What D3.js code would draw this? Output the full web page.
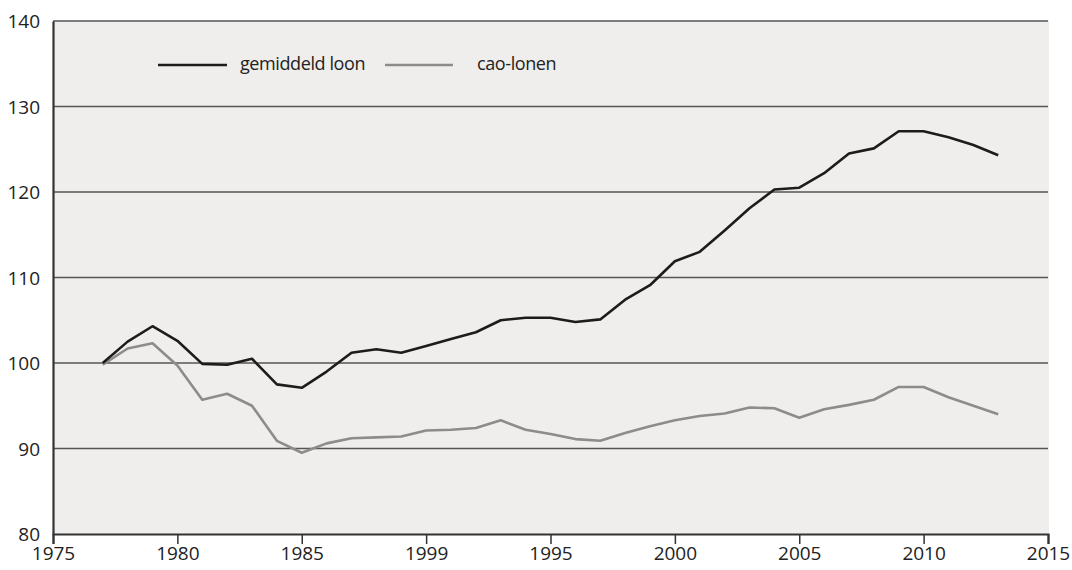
<!DOCTYPE html>
<html>
<head>
<meta charset="utf-8">
<script src="https://cdn.jsdelivr.net/npm/d3@7"></script>
<style>
  body { margin: 0; background: #fff; }
  text { font-family: "Open Sans", sans-serif; fill: #222; }
</style>
</head>
<body>
<div class="vis"></div>
<script>
const years = d3.range(1977, 2014);

// gemiddeld loon (index 1977 = 100)
const gemiddeldLoon = [100.0, 102.5, 104.3, 102.6, 99.9, 99.8, 100.5, 97.5, 97.1, 99.0,
    101.2, 101.6, 101.2, 102.0, 102.8, 103.6, 105.0, 105.3, 105.3, 104.8,
    105.1, 107.4, 109.1, 111.9, 113.0, 115.5, 118.1, 120.3, 120.5, 122.2,
    124.5, 125.1, 127.1, 127.1, 126.4, 125.5, 124.3];

// cao-lonen
const caoLonen = [99.8, 101.7, 102.3, 99.7, 95.7, 96.4, 95.0, 90.9, 89.5, 90.6,
    91.2, 91.3, 91.4, 92.1, 92.2, 92.4, 93.3, 92.2, 91.7, 91.1,
    90.9, 91.8, 92.6, 93.3, 93.8, 94.1, 94.8, 94.7, 93.6, 94.6,
    95.1, 95.7, 97.2, 97.2, 96.0, 95.0, 94.0];

const xTicks = [1975, 1980, 1985, 1990, 1995, 2000, 2005, 2010, 2015];
const xTickLabels = ["1975", "1980", "1985", "1999", "1995", "2000", "2005", "2010", "2015"];
const yTicks = [80, 90, 100, 110, 120, 130, 140];

const width = 1072,
    height = 570,
    margin = {top: 21, right: 24, bottom: 36, left: 53};

let svg = d3.select(".vis")
    .append("svg")
    .attr("width", width)
    .attr("height", height)

let x = d3.scaleLinear().domain([1975, 2015]).range([margin.left, width - margin.right]),
    y = d3.scaleLinear().domain([80, 140]).range([height - margin.bottom, margin.top]);

// panel
svg.append("rect")
    .attr("x", x(1975))
    .attr("y", y(140))
    .attr("width", x(2015) - x(1975) + 1)
    .attr("height", y(80) - y(140))
    .style("fill", "#efeeec")

// gridlines
svg.append("g")
    .selectAll("line")
    .data(yTicks.filter(d => d > 80))
    .join("line")
    .attr("x1", x(1975))
    .attr("x2", x(2015))
    .attr("y1", d => y(d))
    .attr("y2", d => y(d))
    .style("stroke", "#555")
    .style("stroke-width", 1.6)

// y axis
let yAxis = svg.append("g")
    .attr("transform", "translate(" + x(1975) + ",0)")
    .call(d3.axisLeft(y).tickValues(yTicks).tickSize(0).tickPadding(13))
yAxis.select(".domain").style("stroke", "#333").style("stroke-width", 2.2)
yAxis.selectAll("text")
    .style("font-size", "19px")
    .style("font-family", "Open Sans, sans-serif")
    .style("fill", "#222")
    .attr("dy", "0.35em")

// x axis
let xAxis = svg.append("g")
    .attr("transform", "translate(0," + y(80) + ")")
    .call(d3.axisBottom(x).tickValues(xTicks).tickSize(10).tickPadding(3)
        .tickFormat((d, i) => xTickLabels[i]))
xAxis.select(".domain").style("stroke", "#333").style("stroke-width", 2.2)
xAxis.selectAll(".tick line").style("stroke", "#333").style("stroke-width", 1.5)
xAxis.selectAll("text")
    .style("font-size", "19px")
    .style("font-family", "Open Sans, sans-serif")
    .style("fill", "#222")

// lines
const line = d3.line().x(d => x(d[0])).y(d => y(d[1]));

svg.append("path")
    .datum(years.map((d, i) => [d, caoLonen[i]]))
    .attr("d", line)
    .style("fill", "none")
    .style("stroke", "#8c8c8c")
    .style("stroke-width", 2.6)
    .style("stroke-linejoin", "round")

svg.append("path")
    .datum(years.map((d, i) => [d, gemiddeldLoon[i]]))
    .attr("d", line)
    .style("fill", "none")
    .style("stroke", "#1c1c1c")
    .style("stroke-width", 2.6)
    .style("stroke-linejoin", "round")

// legend
const legend = [
    {label: "gemiddeld loon", color: "#1c1c1c", x1: 158, x2: 227, tx: 240},
    {label: "cao-lonen", color: "#8c8c8c", x1: 385, x2: 453, tx: 477}
];
let legendG = svg.append("g").selectAll("g").data(legend).join("g")
legendG.append("line")
    .attr("x1", d => d.x1)
    .attr("x2", d => d.x2)
    .attr("y1", 65)
    .attr("y2", 65)
    .style("stroke", d => d.color)
    .style("stroke-width", 2.6)
legendG.append("text")
    .attr("x", d => d.tx)
    .attr("y", 65)
    .attr("dy", "0.3em")
    .text(d => d.label)
    .style("font-size", "18px")
    .style("letter-spacing", "-0.4px")
</script>
</body>
</html>
